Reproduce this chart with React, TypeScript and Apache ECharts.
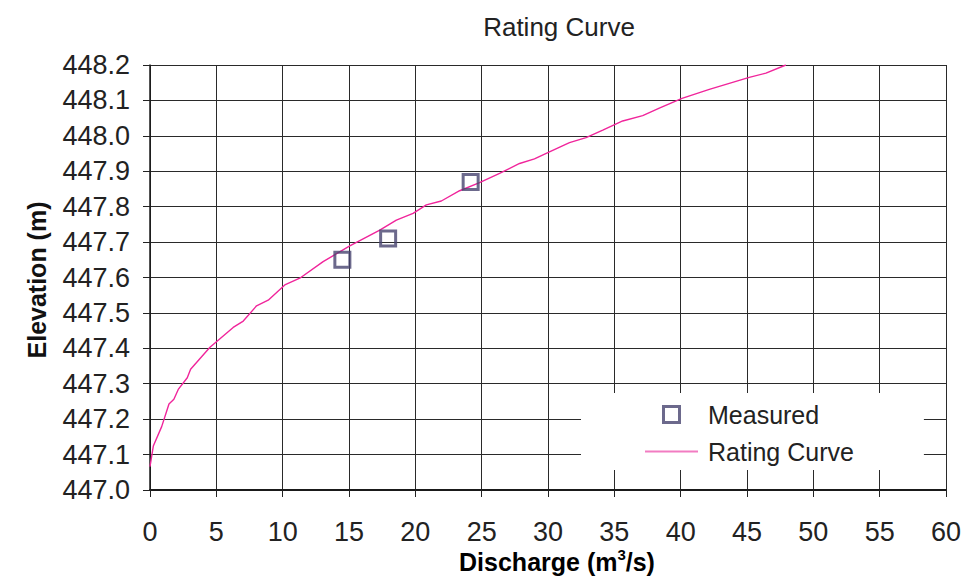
import React, { useEffect, useRef } from "react";
import * as echarts from "echarts";

// Rating curve (discharge m3/s, elevation m)
const curveQ = [
  0, 0.25, 0.88, 1.43, 1.8, 2.13, 2.81, 3.06, 4.52, 6.27, 7.03, 8.03, 8.91,
  10.16, 11.29, 13.05, 15.06, 17.32, 18.57, 19.83, 20.83, 21.96, 23.34, 24.84,
  26.35, 27.86, 28.98, 30.11, 31.62, 32.87, 34.13, 35.63, 37.14, 38.39, 40.1,
  42.16, 45.17, 46.43, 47.93,
];
const curveH = [
  447.066, 447.124, 447.179, 447.243, 447.256, 447.284, 447.317, 447.341,
  447.403, 447.459, 447.477, 447.52, 447.536, 447.579, 447.598, 447.645,
  447.689, 447.734, 447.762, 447.781, 447.805, 447.816, 447.845, 447.868,
  447.894, 447.922, 447.935, 447.955, 447.981, 447.995, 448.016, 448.042,
  448.057, 448.078, 448.106, 448.131, 448.165, 448.177, 448.2,
];

// Measured points
const measuredQ = [14.5, 17.95, 24.17];
const measuredH = [447.65, 447.71, 447.87];

const FONT = '"Liberation Sans", Arial, sans-serif';
const SQUARE = "#47446f";
const PINK = "#f0259b";

export default function App() {
  const ref = useRef<HTMLDivElement>(null);
  useEffect(() => {
    const chart = echarts.init(ref.current!, null, { renderer: "svg" });
    chart.setOption({
      animation: false,
      backgroundColor: "#ffffff",
      textStyle: { fontFamily: FONT },
      title: {
        text: "Rating Curve",
        left: 554,
        top: 9,
        textAlign: "center",
        textStyle: { fontSize: 26, fontWeight: "normal", color: "#222", fontFamily: FONT },
      },
      grid: { left: 150, top: 65, width: 797, height: 425 },
      xAxis: {
        type: "value",
        min: 0,
        max: 60,
        interval: 5,
        axisLine: { show: true, lineStyle: { color: "#1a1a1a", width: 2 } },
        axisTick: { show: true, length: 7, lineStyle: { color: "#222", width: 1 } },
        axisLabel: { fontSize: 27, color: "#222", margin: 28, fontFamily: FONT },
        splitLine: { show: true, lineStyle: { color: "#2a2a2a", width: 1 } },
      },
      yAxis: {
        type: "value",
        min: 447,
        max: 448.2,
        interval: 0.1,
        axisLine: { show: true, lineStyle: { color: "#1a1a1a", width: 1.5 } },
        axisTick: { show: true, length: 7, lineStyle: { color: "#222", width: 1 } },
        axisLabel: {
          fontSize: 27,
          color: "#222",
          margin: 20,
          fontFamily: FONT,
          formatter: (v: number) => v.toFixed(1),
        },
        splitLine: { show: true, lineStyle: { color: "#2a2a2a", width: 1 } },
      },
      legend: {
        orient: "vertical",
        left: 581,
        top: 393,
        backgroundColor: "#ffffff",
        padding: [9, 70, 6, 64],
        itemGap: 12,
        itemWidth: 53,
        itemHeight: 16,
        symbolKeepAspect: true,
        textStyle: { fontSize: 25, color: "#222", padding: [0, 0, 0, 5], fontFamily: FONT },
        data: [
          {
            name: "Measured",
            icon: "path://M0,0H10V10H0Z",
            itemStyle: { color: "rgba(255,255,255,0)", borderColor: SQUARE, borderWidth: 3 },
          },
          {
            name: "Rating Curve",
            icon: "path://M0,0H53V1.8H0Z",
            itemStyle: { color: "#f27cc2", borderWidth: 0 },
          },
        ],
      },
      series: [
        {
          name: "Rating Curve",
          type: "line",
          data: curveQ.map((q, i) => [q, curveH[i]]),
          showSymbol: false,
          symbol: "none",
          lineStyle: { color: PINK, width: 1.4 },
          itemStyle: { color: PINK },
          z: 2,
        },
        {
          name: "Measured",
          type: "scatter",
          data: measuredQ.map((q, i) => [q, measuredH[i]]),
          symbol: "rect",
          symbolSize: 15,
          itemStyle: {
            color: "rgba(255,255,255,0)",
            borderColor: SQUARE,
            borderWidth: 3,
          },
          z: 3,
        },
      ],
      graphic: [
        {
          type: "text",
          x: 37,
          y: 280,
          rotation: Math.PI / 2,
          style: {
            text: "Elevation (m)",
            font: 'bold 25px "Liberation Sans", Arial, sans-serif',
            fill: "#111",
            align: "center",
            verticalAlign: "middle",
          },
        },
        {
          type: "text",
          x: 557,
          y: 562,
          style: {
            text: "{a|Discharge (m}{s|3}{a|/s)}",
            align: "center",
            verticalAlign: "middle",
            rich: {
              a: {
                fontSize: 25,
                fontWeight: "bold",
                fontFamily: FONT,
                color: "#111",
                lineHeight: 30,
                verticalAlign: "middle",
              },
              s: {
                fontSize: 15,
                fontWeight: "bold",
                fontFamily: FONT,
                color: "#111",
                lineHeight: 16,
                verticalAlign: "top",
              },
            },
          },
        },
      ],
    });
    return () => chart.dispose();
  }, []);
  return (
    <div
      ref={ref}
      style={{ position: "fixed", left: 0, top: 0, width: 964, height: 583, background: "#fff" }}
    />
  );
}
